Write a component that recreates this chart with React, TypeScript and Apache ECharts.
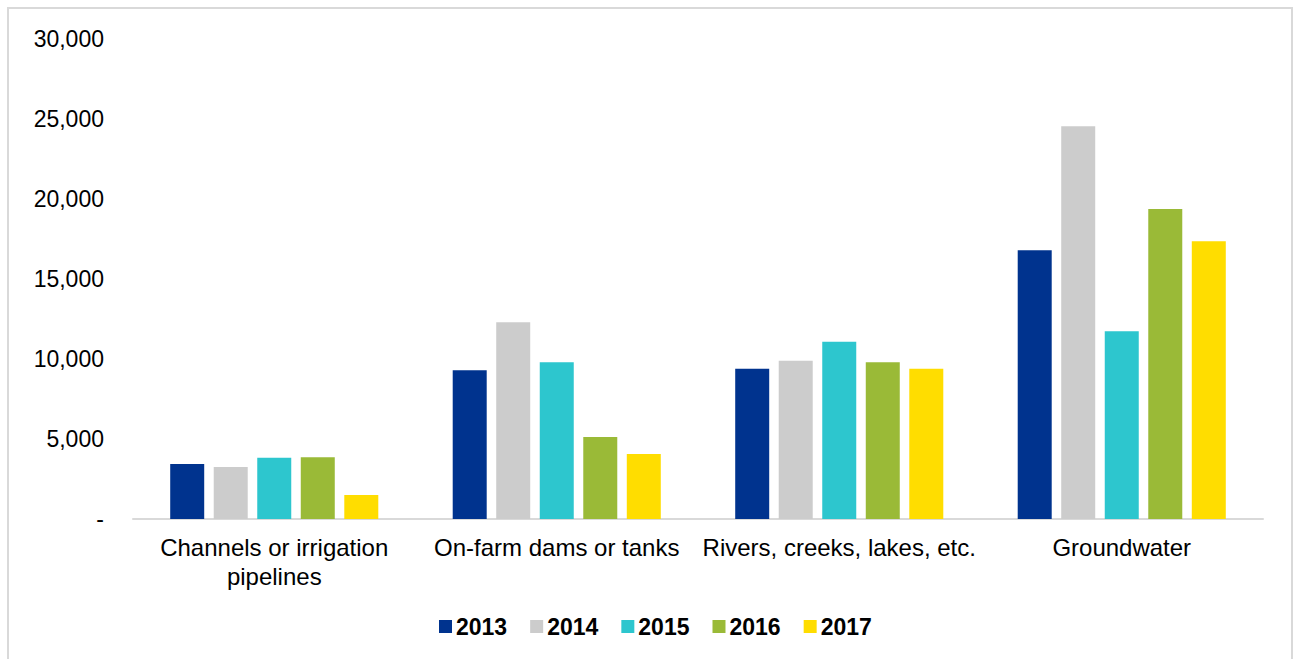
import React, { useEffect, useRef } from "react";
import * as echarts from "echarts";

const categories = [
  "Channels or irrigation\npipelines",
  "On-farm dams or tanks",
  "Rivers, creeks, lakes, etc.",
  "Groundwater",
];
const years = ["2013", "2014", "2015", "2016", "2017"];
const v2013 = [3440, 9290, 9390, 16790];
const v2014 = [3250, 12290, 9890, 24540];
const v2015 = [3830, 9790, 11080, 11730];
const v2016 = [3860, 5120, 9790, 19380];
const v2017 = [1500, 4060, 9390, 17360];
const seriesValues = [v2013, v2014, v2015, v2016, v2017];
const colors = ["#00338E", "#CCCCCC", "#2DC6CE", "#9ABA37", "#FFDD00"];

const FONT = "'Liberation Sans', Arial, sans-serif";

export default function App() {
  const ref = useRef<HTMLDivElement>(null);
  useEffect(() => {
    if (!ref.current) return;
    const chart = echarts.init(ref.current, null, { renderer: "svg" });
    chart.setOption({
      animation: false,
      textStyle: { fontFamily: FONT },
      graphic: [
        {
          type: "rect",
          shape: { x: 8, y: 8, width: 1284, height: 680 },
          style: { fill: "none", stroke: "#D9D9D9", lineWidth: 2 },
          silent: true,
        },
      ],
      grid: { left: 133, right: 34, top: 39, bottom: 140 },
      legend: {
        data: years,
        bottom: 16,
        left: 434,
        itemWidth: 13,
        itemHeight: 13,
        itemGap: 23,
        icon: "rect",
        textStyle: { fontSize: 23, fontWeight: "bold", color: "#000", fontFamily: FONT, padding: [0, 0, 0, -1] },
      },
      xAxis: {
        type: "category",
        data: categories,
        axisLine: { lineStyle: { color: "#D9D9D9", width: 2 } },
        axisTick: { show: false },
        axisLabel: {
          fontSize: 24,
          color: "#000",
          lineHeight: 29,
          margin: 14,
          interval: 0,
          fontFamily: FONT,
        },
      },
      yAxis: {
        type: "value",
        min: 0,
        max: 30000,
        interval: 5000,
        splitLine: { show: false },
        axisLine: { show: false },
        axisTick: { show: false },
        axisLabel: {
          fontSize: 23,
          color: "#000",
          margin: 29,
          fontFamily: FONT,
          formatter: (v: number) => (v === 0 ? "-" : v.toLocaleString("en-US")),
        },
      },
      series: years.map((y, i) => ({
        name: y,
        type: "bar",
        data: seriesValues[i],
        barWidth: 34,
        barGap: "28%",
        itemStyle: { color: colors[i] },
      })),
    });
    return () => chart.dispose();
  }, []);
  return (
    <div
      ref={ref}
      style={{ position: "fixed", left: 0, top: 0, width: 1297, height: 659, background: "#fff" }}
    />
  );
}
